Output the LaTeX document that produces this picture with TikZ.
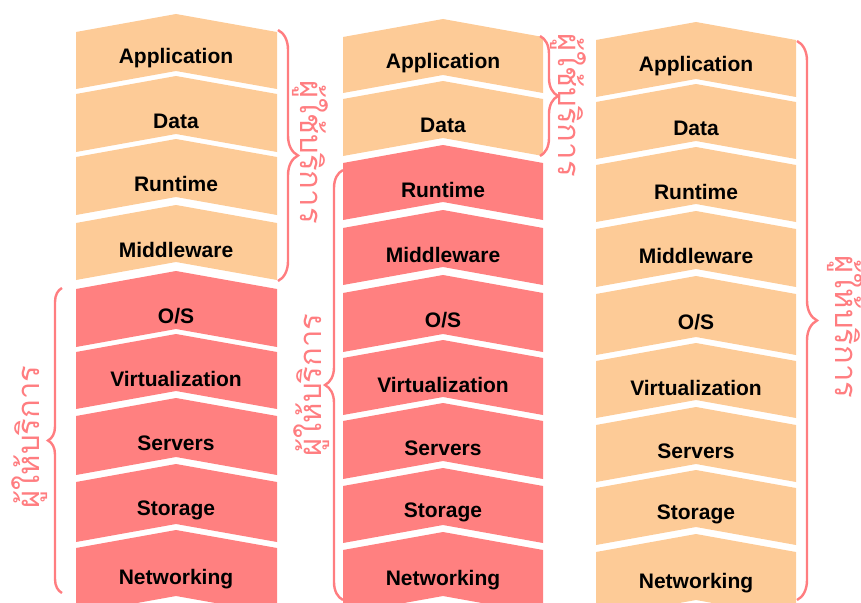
\documentclass[tikz,border=0pt]{standalone}
\usepackage{fontspec}
\setmainfont{Liberation Sans}
\newfontfamily\thaifont[Script=Thai]{Loma}
\usetikzlibrary{decorations.pathreplacing}
\definecolor{userfill}{RGB}{253,203,151}
\definecolor{provfill}{RGB}{255,128,128}
\definecolor{bracecol}{RGB}{255,125,128}
\tikzset {
  every node/.style={font=\fontsize{21}{25}\selectfont\bfseries},
  thailabel/.style={font=\thaifont\fontsize{31}{36}\selectfont, text=bracecol,
    inner sep=0pt},
  sidebrace/.style={draw=bracecol, line width=2.4pt, decorate,
    decoration={brace, amplitude=#1}},
}

\begin{document}
\begin{tikzpicture}[x=1pt,y=-1pt]
  \useasboundingbox (0,0) rectangle (861,602);
  \clip (0,0) rectangle (861,602);

  % column 1
  \foreach \name/\top/\bot/\col [count=\i] in {
      Application/32/89/userfill, Data/94/152/userfill,
      Runtime/157/215/userfill, Middleware/223/280/userfill,
      {O/S}/289/347/provfill, Virtualization/352/409/provfill,
      Servers/416/475/provfill, Storage/482/542/provfill,
      Networking/548/614/provfill} {
    \fill[\col] (76,\top) -- (176,\top-18) -- (277,\top) -- (277,\bot)
      -- (176,\bot-18) -- (76,\bot) -- cycle;
    \node (a\i) at (176,{(\top+\bot)/2-2}) {\name};
  }

  % column 2
  \foreach \name/\top/\bot/\col [count=\i] in {
      Application/37/93/userfill, Data/99/156/userfill,
      Runtime/163/220/provfill, Middleware/228/285/provfill,
      {O/S}/293/352/provfill, Virtualization/358/415/provfill,
      Servers/421/479/provfill, Storage/486/543/provfill,
      Networking/550/614/provfill} {
    \fill[\col] (343,\top) -- (443,\top-18) -- (543,\top) -- (543,\bot)
      -- (443,\bot-18) -- (343,\bot) -- cycle;
    \node (b\i) at (443,{(\top+\bot)/2-2}) {\name};
  }

  % column 3
  \foreach \name/\top/\bot [count=\i] in {
      Application/40/97, Data/102/159, Runtime/165/222,
      Middleware/229/287, {O/S}/294/355, Virtualization/361/418,
      Servers/425/482, Storage/488/545, Networking/552/618} {
    \fill[userfill] (596,\top) -- (696,\top-18) -- (796,\top) -- (796,\bot)
      -- (696,\bot-18) -- (596,\bot) -- cycle;
    \node (c\i) at (696,{(\top+\bot)/2-2}) {\name};
  }

  % braces
  \draw[sidebrace=20] (278,30) -- (278,281);
  \draw[sidebrace=14] (62,593) -- (62,288);
  \draw[sidebrace=18] (343,600) -- (343,170);
  \draw[sidebrace=18] (540,36) -- (540,156);
  \draw[sidebrace=20] (797,41) -- (797,600);

  \node[thailabel, rotate=-90] (user1) at (310,152) {ผู้ใช้บริการ};
  \node[thailabel, rotate=90] (prov1) at (30,437) {ผู้ให้บริการ};
  \node[thailabel, rotate=90] (prov2) at (312,385) {ผู้ให้บริการ};
  \node[thailabel, rotate=-90] (user2) at (568,105) {ผู้ใช้บริการ};
  \node[thailabel, rotate=-90] (prov3) at (845,327) {ผู้ให้บริการ};
\end{tikzpicture}
\end{document}
